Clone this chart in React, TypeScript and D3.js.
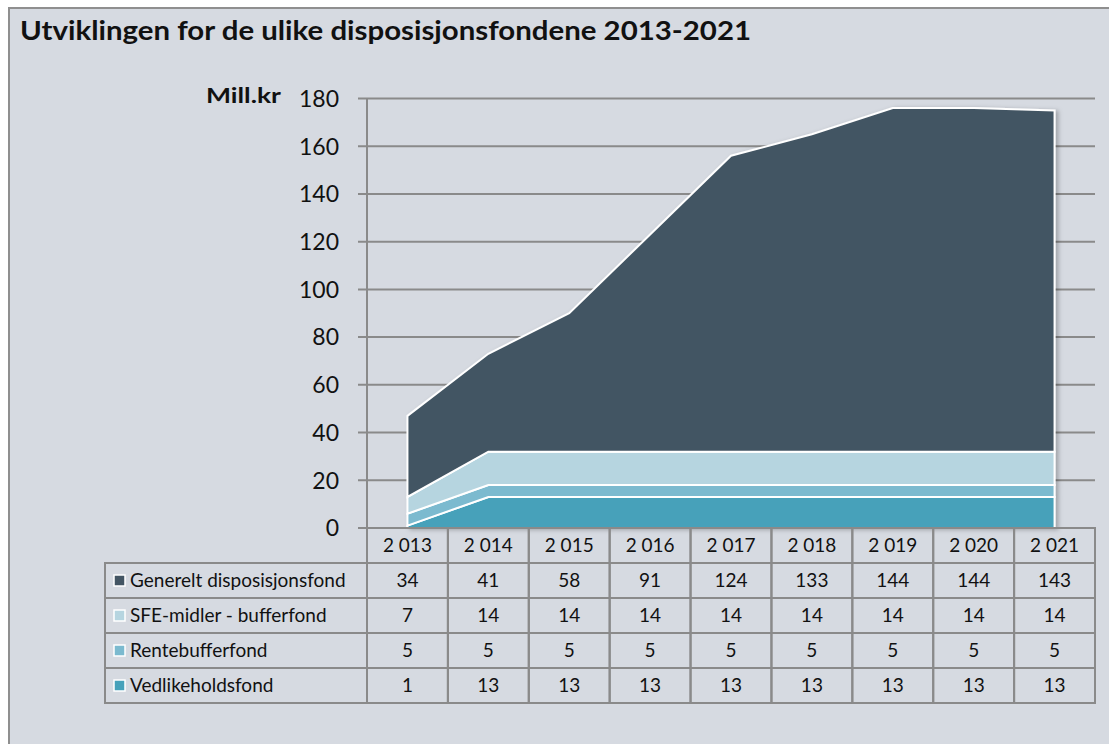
import React from "react";
import * as d3 from "d3";

const title = "Utviklingen for de ulike disposisjonsfondene 2013-2021";
const unitLabel = "Mill.kr";
const years = ["2 013", "2 014", "2 015", "2 016", "2 017", "2 018", "2 019", "2 020", "2 021"];
const seriesNames = ["Generelt disposisjonsfond", "SFE-midler - bufferfond", "Rentebufferfond", "Vedlikeholdsfond"];
const generelt = [34, 41, 58, 91, 124, 133, 144, 144, 143];
const sfe = [7, 14, 14, 14, 14, 14, 14, 14, 14];
const rente = [5, 5, 5, 5, 5, 5, 5, 5, 5];
const vedlikehold = [1, 13, 13, 13, 13, 13, 13, 13, 13];
const yTicks = [0, 20, 40, 60, 80, 100, 120, 140, 160, 180];
const colors = ["#435563", "#b6d5e0", "#7bbacf", "#46a1ba"];

const FONT = "Lato, 'Open Sans', sans-serif";

export default function App() {
  const W = 1109, H = 744;
  const tableLeft = 105, colLeft = 367, colRight = 1095;
  const yTop = 98.5, yBottom = 528;
  const rowH = 35;

  const x = d3.scaleBand<string>().domain(years).range([colLeft, colRight]);
  const bw = x.bandwidth();
  const xp = d3.scalePoint<string>().domain(years).range([colLeft + bw / 2, colRight - bw / 2]);
  const y = d3.scaleLinear().domain([0, 180]).range([yBottom, yTop]);

  const seriesValues = [generelt, sfe, rente, vedlikehold];
  const keys = ["ved", "rente", "sfe", "gen"];
  const rows = years.map((yr, i) => ({
    year: yr,
    ved: vedlikehold[i],
    rente: rente[i],
    sfe: sfe[i],
    gen: generelt[i],
  }));
  const stack = d3.stack<any>().keys(keys)(rows);
  const area = d3
    .area<any>()
    .x((d) => xp(d.data.year) as number)
    .y0((d) => y(d[0]))
    .y1((d) => y(d[1]));
  const layerColor: Record<string, string> = {
    gen: colors[0],
    sfe: colors[1],
    rente: colors[2],
    ved: colors[3],
  };

  const gridColor = "#8a8a8a";
  const headerTop = yBottom;
  const tableTop = headerTop + rowH;
  const tableBottom = tableTop + rowH * seriesNames.length;
  const tableFont = 19;

  return (
    <svg
      width={W}
      height={H}
      style={{ position: "absolute", left: 0, top: 0, background: "#ffffff" }}
      fontFamily={FONT}
    >
      <defs>
        <filter id="shadow" x="-10%" y="-10%" width="120%" height="120%">
          <feDropShadow dx="3" dy="1" stdDeviation="2" floodColor="#000" floodOpacity="0.25" />
        </filter>
      </defs>
      <rect x={9} y={8} width={W + 20} height={H + 20} fill="#d6dae1" stroke="#8f8f8f" strokeWidth={2} />
      <text x={20} y={40} fontSize={26} fontWeight="bold" fill="#111" textLength={731} lengthAdjust="spacingAndGlyphs">
        {title}
      </text>
      <text x={281} y={103} fontSize={20} fontWeight="bold" fill="#111" textAnchor="end" textLength={75} lengthAdjust="spacingAndGlyphs">
        {unitLabel}
      </text>

      {/* grid lines and y tick labels */}
      {yTicks.map((t) => (
        <g key={t}>
          <line x1={358} x2={t === 0 ? colLeft : colRight} y1={y(t)} y2={y(t)} stroke={gridColor} strokeWidth={2} />
          <text x={339} y={y(t)} dy="0.36em" fontSize={23} textAnchor="end" fill="#111">
            {t}
          </text>
        </g>
      ))}

      {/* areas */}
      <g filter="url(#shadow)">
        {stack.map((layer) => (
          <path key={layer.key} d={area(layer) as string} fill={layerColor[layer.key]} stroke="#ffffff" strokeWidth={2} strokeLinejoin="miter" />
        ))}
      </g>

      {/* y axis */}
      <line x1={colLeft} x2={colLeft} y1={yTop} y2={tableBottom} stroke={gridColor} strokeWidth={2} />

      {/* header row */}
      {years.map((yr) => (
        <g key={yr}>
          <rect x={x(yr)} y={headerTop} width={bw} height={rowH} fill="none" stroke={gridColor} strokeWidth={2} />
          <text x={(x(yr) as number) + bw / 2} y={headerTop + rowH / 2} dy="0.35em" textAnchor="middle" fontSize={tableFont} fill="#111">
            {yr}
          </text>
        </g>
      ))}

      {/* data rows */}
      {seriesNames.map((name, r) => {
        const top = tableTop + r * rowH;
        return (
          <g key={name}>
            <rect x={tableLeft} y={top} width={colLeft - tableLeft} height={rowH} fill="none" stroke={gridColor} strokeWidth={2} />
            <rect x={114} y={top + rowH / 2 - 5.5} width={11} height={11} fill={colors[r]} stroke="#ffffff" strokeWidth={1.5} />
            <text x={130} y={top + rowH / 2} dy="0.35em" fontSize={tableFont} fill="#111">
              {name}
            </text>
            {years.map((yr, i) => (
              <g key={yr}>
                <rect x={x(yr)} y={top} width={bw} height={rowH} fill="none" stroke={gridColor} strokeWidth={2} />
                <text x={(x(yr) as number) + bw / 2} y={top + rowH / 2} dy="0.35em" textAnchor="middle" fontSize={tableFont} fill="#111">
                  {seriesValues[r][i]}
                </text>
              </g>
            ))}
          </g>
        );
      })}
    </svg>
  );
}
